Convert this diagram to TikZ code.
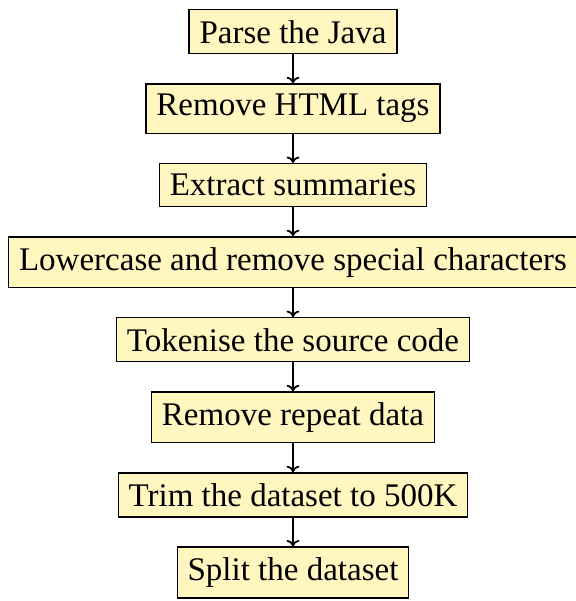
\documentclass[tikz,border=0pt]{standalone}
\usepackage{fontspec}
\setmainfont{Liberation Serif}
\usetikzlibrary{positioning,arrows.meta}
\definecolor{boxfill}{RGB}{255,247,191}
\tikzset{
  stepbox/.style={draw=black, fill=boxfill, line width=0.7pt, inner sep=5.2pt,
    font=\fontsize{16.5pt}{19.8pt}\selectfont},
  flow/.style={-{To[length=3.2pt,width=6.4pt]}, line width=0.9pt}
}
\begin{document}
\begin{tikzpicture}[node distance=14.4pt]
  \useasboundingbox (0,0) rectangle (288pt,-300.5pt);
  \node[stepbox, anchor=north] (parse) at (146.5pt,-4.5pt) {Parse the Java};
  \node[stepbox, below=of parse] (html) {Remove HTML tags};
  \node[stepbox, below=of html] (summ) {Extract summaries};
  \node[stepbox, below=of summ] (lower) {Lowercase and remove special characters};
  \node[stepbox, below=of lower] (token) {Tokenise the source code};
  \node[stepbox, below=of token] (repeat) {Remove repeat data};
  \node[stepbox, below=of repeat] (trim) {Trim the dataset to 500K};
  \node[stepbox, below=of trim] (split) {Split the dataset};
  \draw[flow] (parse) -- (html);
  \draw[flow] (html) -- (summ);
  \draw[flow] (summ) -- (lower);
  \draw[flow] (lower) -- (token);
  \draw[flow] (token) -- (repeat);
  \draw[flow] (repeat) -- (trim);
  \draw[flow] (trim) -- (split);
\end{tikzpicture}
\end{document}
